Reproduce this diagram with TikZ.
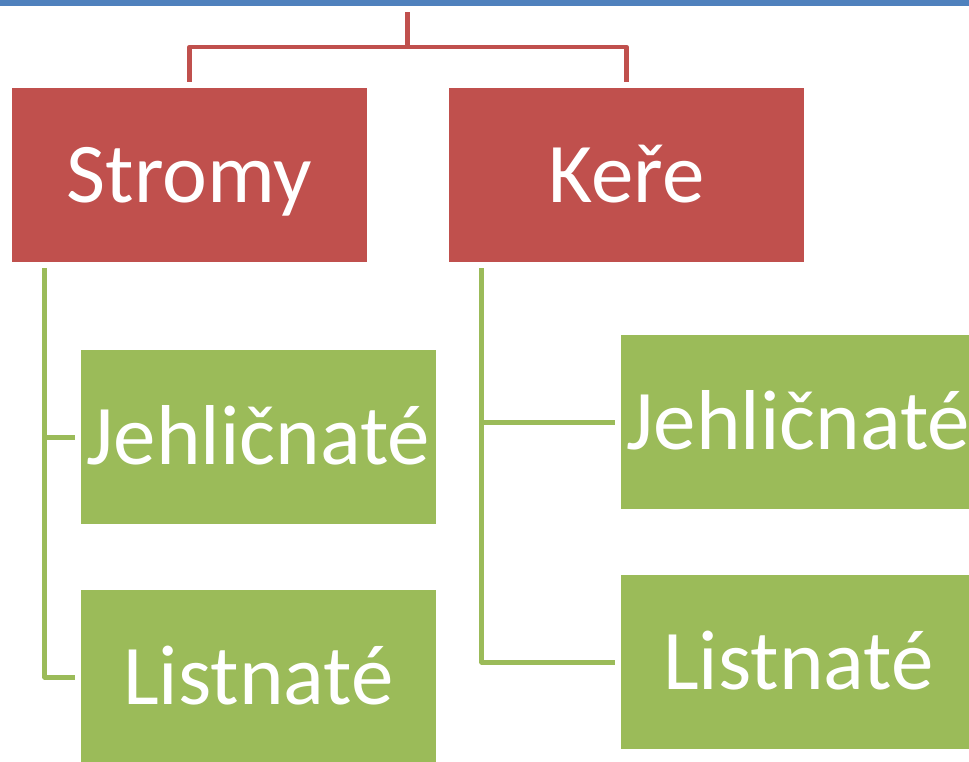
\documentclass[tikz,border=0pt]{standalone}
\usepackage{fontspec}
\setmainfont{Carlito}
\definecolor{boxred}{HTML}{C0504D}
\definecolor{boxgreen}{HTML}{9BBB59}
\definecolor{barblue}{HTML}{4F81BD}
\begin{document}
\begin{tikzpicture}[x=1pt,y=-1pt,
  box/.style={inner sep=0pt, minimum width=355pt, minimum height=174pt,
    text=white, font=\fontsize{85}{100}\selectfont, text height=54pt, text depth=0pt},
  redbox/.style={box, fill=boxred},
  greenbox/.style={box, fill=boxgreen},
  redline/.style={draw=boxred, line width=4.7pt, line join=round},
  greenline/.style={draw=boxgreen, line width=5pt, line join=round}]
\useasboundingbox (0,0) rectangle (969,761);
\fill[barblue] (0,0) rectangle (969,6);
\node[redbox] (stromy) at (189.5,175) {Stromy};
\node[redbox] (kere) at (626.5,175) {Keře};
\node[greenbox] (jehlL) at (258.5,437) {Jehličnaté};
\node[greenbox] (listL) at (258.5,677) {Listnaté};
\node[greenbox] (jehlR) at (798.5,422) {Jehličnaté};
\node[greenbox] (listR) at (798.5,662) {Listnaté};
\coordinate (root) at (407.5,12);
\coordinate (mid) at (407.5,47);
\draw[redline] (root) -- (mid);
\draw[redline] ([yshift=6pt]stromy.north) |- (mid) -| ([yshift=6pt]kere.north);
\coordinate (sl) at ([xshift=33pt,yshift=-6pt]stromy.south west);
\coordinate (kl) at ([xshift=33pt,yshift=-6pt]kere.south west);
\draw[greenline] (sl) |- ([xshift=-6pt]listL.west);
\draw[greenline] (sl |- jehlL.west) -- ([xshift=-6pt]jehlL.west);
\draw[greenline] (kl) |- ([xshift=-6pt]listR.west);
\draw[greenline] (kl |- jehlR.west) -- ([xshift=-6pt]jehlR.west);
\end{tikzpicture}
\end{document}
